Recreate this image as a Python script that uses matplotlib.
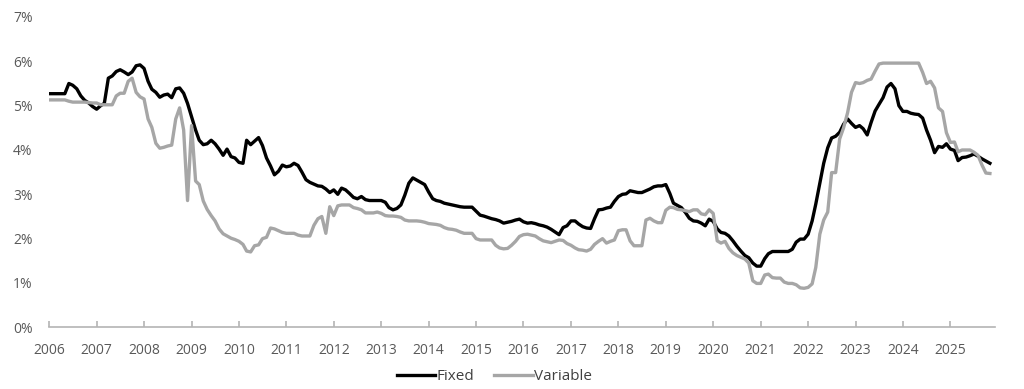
import numpy as np
import pandas as pd
import matplotlib
matplotlib.use("Agg")
import matplotlib.pyplot as plt
from matplotlib.ticker import FixedLocator

# monthly rates (%), Jan 2006 - Nov 2025
fixed = [
    5.27, 5.27, 5.27, 5.27, 5.27, 5.50, 5.46, 5.38, 5.22, 5.12, 5.06, 4.98,  # 2006
    4.92, 5.00, 5.05, 5.62, 5.67, 5.77, 5.81, 5.76, 5.70, 5.76, 5.90, 5.92,  # 2007
    5.84, 5.55, 5.37, 5.30, 5.19, 5.24, 5.26, 5.18, 5.38, 5.40, 5.28, 5.05,  # 2008
    4.75, 4.45, 4.22, 4.12, 4.14, 4.22, 4.14, 4.02, 3.88, 4.02, 3.85, 3.82,  # 2009
    3.72, 3.70, 4.22, 4.12, 4.20, 4.28, 4.10, 3.82, 3.64, 3.44, 3.52, 3.66,  # 2010
    3.62, 3.64, 3.70, 3.65, 3.50, 3.33, 3.27, 3.23, 3.19, 3.18, 3.12, 3.04,  # 2011
    3.10, 3.00, 3.14, 3.10, 3.02, 2.93, 2.90, 2.95, 2.88, 2.86, 2.86, 2.86,  # 2012
    2.86, 2.82, 2.70, 2.65, 2.68, 2.76, 2.98, 3.25, 3.37, 3.32, 3.27, 3.22,  # 2013
    3.05, 2.90, 2.86, 2.84, 2.80, 2.78, 2.76, 2.74, 2.72, 2.71, 2.71, 2.71,  # 2014
    2.62, 2.53, 2.51, 2.48, 2.45, 2.43, 2.40, 2.35, 2.37, 2.39, 2.42, 2.44,  # 2015
    2.38, 2.35, 2.36, 2.34, 2.31, 2.29, 2.26, 2.21, 2.15, 2.09, 2.25, 2.29,  # 2016
    2.40, 2.40, 2.33, 2.27, 2.24, 2.23, 2.45, 2.65, 2.66, 2.69, 2.71, 2.84,  # 2017
    2.95, 3.00, 3.01, 3.08, 3.06, 3.04, 3.04, 3.08, 3.12, 3.17, 3.19, 3.19,  # 2018
    3.22, 3.02, 2.80, 2.75, 2.70, 2.59, 2.46, 2.40, 2.39, 2.35, 2.29, 2.44,  # 2019
    2.39, 2.22, 2.14, 2.12, 2.06, 1.95, 1.83, 1.72, 1.62, 1.57, 1.45, 1.38,  # 2020
    1.38, 1.55, 1.66, 1.71, 1.71, 1.71, 1.71, 1.71, 1.76, 1.92, 1.99, 1.99,  # 2021
    2.10, 2.40, 2.78, 3.25, 3.70, 4.05, 4.27, 4.31, 4.40, 4.58, 4.70, 4.60,  # 2022
    4.51, 4.55, 4.48, 4.34, 4.62, 4.88, 5.03, 5.18, 5.42, 5.50, 5.38, 5.00,  # 2023
    4.87, 4.87, 4.83, 4.81, 4.80, 4.72, 4.45, 4.22, 3.94, 4.08, 4.06, 4.14,  # 2024
    4.02, 3.99, 3.76, 3.83, 3.84, 3.87, 3.91, 3.86, 3.80, 3.75, 3.70,        # 2025
]
variable = [
    5.13, 5.13, 5.13, 5.13, 5.13, 5.10, 5.08, 5.08, 5.08, 5.08, 5.07, 5.06,  # 2006
    5.06, 5.02, 5.02, 5.02, 5.02, 5.22, 5.28, 5.28, 5.55, 5.62, 5.30, 5.20,  # 2007
    5.15, 4.70, 4.51, 4.15, 4.04, 4.06, 4.09, 4.11, 4.70, 4.95, 4.45, 2.86,  # 2008
    4.55, 3.30, 3.22, 2.85, 2.66, 2.52, 2.40, 2.22, 2.11, 2.06, 2.01, 1.98,  # 2009
    1.94, 1.87, 1.72, 1.70, 1.84, 1.86, 2.00, 2.03, 2.24, 2.22, 2.18, 2.14,  # 2010
    2.12, 2.12, 2.12, 2.08, 2.06, 2.06, 2.06, 2.30, 2.45, 2.50, 2.12, 2.72,  # 2011
    2.52, 2.74, 2.76, 2.76, 2.76, 2.70, 2.68, 2.65, 2.58, 2.58, 2.58, 2.60,  # 2012
    2.57, 2.52, 2.51, 2.51, 2.50, 2.48, 2.42, 2.40, 2.40, 2.40, 2.39, 2.37,  # 2013
    2.34, 2.33, 2.32, 2.30, 2.25, 2.22, 2.21, 2.19, 2.15, 2.12, 2.12, 2.12,  # 2014
    2.00, 1.97, 1.97, 1.97, 1.97, 1.85, 1.79, 1.77, 1.78, 1.85, 1.94, 2.05,  # 2015
    2.09, 2.10, 2.08, 2.06, 2.00, 1.95, 1.93, 1.91, 1.94, 1.97, 1.96, 1.89,  # 2016
    1.85, 1.79, 1.75, 1.74, 1.72, 1.76, 1.87, 1.94, 2.00, 1.90, 1.94, 1.97,  # 2017
    2.18, 2.20, 2.20, 1.95, 1.84, 1.84, 1.84, 2.42, 2.46, 2.40, 2.36, 2.36,  # 2018
    2.64, 2.71, 2.70, 2.66, 2.65, 2.63, 2.61, 2.65, 2.65, 2.56, 2.54, 2.65,  # 2019
    2.57, 1.95, 1.90, 1.94, 1.78, 1.68, 1.62, 1.58, 1.54, 1.45, 1.05, 0.99,  # 2020
    0.99, 1.18, 1.20, 1.12, 1.11, 1.11, 1.02, 0.99, 0.99, 0.96, 0.89, 0.88,  # 2021
    0.90, 0.98, 1.35, 2.10, 2.42, 2.60, 3.49, 3.49, 4.25, 4.50, 4.84, 5.30,  # 2022
    5.52, 5.50, 5.52, 5.57, 5.60, 5.78, 5.94, 5.96, 5.96, 5.96, 5.96, 5.96,  # 2023
    5.96, 5.96, 5.96, 5.96, 5.96, 5.75, 5.50, 5.55, 5.40, 4.95, 4.87, 4.39,  # 2024
    4.17, 4.18, 3.96, 4.00, 4.00, 4.00, 3.95, 3.88, 3.66, 3.48, 3.47,        # 2025
]
years = list(range(2006, 2026))

dates = pd.date_range("2006-01-01", periods=len(fixed), freq="MS")

plt.rcParams['font.family'] = ['Open Sans', 'DejaVu Sans']

fig = plt.figure(figsize=(10.24, 3.89), dpi=100)
ax = fig.add_axes([0.0481, 0.1586, 0.9233, 0.7977])

ax.plot(dates, fixed, color='black', lw=2.4, label='Fixed', solid_joinstyle='round')
ax.plot(dates, variable, color='#a6a6a6', lw=2.4, label='Variable', solid_joinstyle='round')

ax.set_ylim(0, 7)
ax.set_yticks(range(0, 8))
ax.set_yticklabels([f"{v}%" for v in range(0, 8)])
ax.set_xlim(pd.Timestamp("2006-01-01"), pd.Timestamp("2025-12-08"))
year_ticks = [pd.Timestamp(f"{y}-01-01") for y in years]
ax.xaxis.set_major_locator(FixedLocator(matplotlib.dates.date2num(year_ticks)))
ax.set_xticklabels([str(y) for y in years])

for s in ['top', 'right', 'left']:
    ax.spines[s].set_visible(False)
ax.spines['bottom'].set_color('#b4b4b4')
ax.spines['bottom'].set_linewidth(1.2)

ax.tick_params(axis='x', direction='in', length=4, width=1.2, color='#b4b4b4',
               pad=11, labelsize=10, labelcolor='#595959')
ax.tick_params(axis='y', length=0, pad=12, labelsize=10, labelcolor='#595959')

leg = fig.legend(loc='center', bbox_to_anchor=(0.483, 0.032), ncol=2, frameon=False,
                 fontsize=11, handlelength=2.5, handletextpad=0.1, columnspacing=1.3)
for t in leg.get_texts():
    t.set_color('#404040')

fig.savefig('out.png', dpi=100)
